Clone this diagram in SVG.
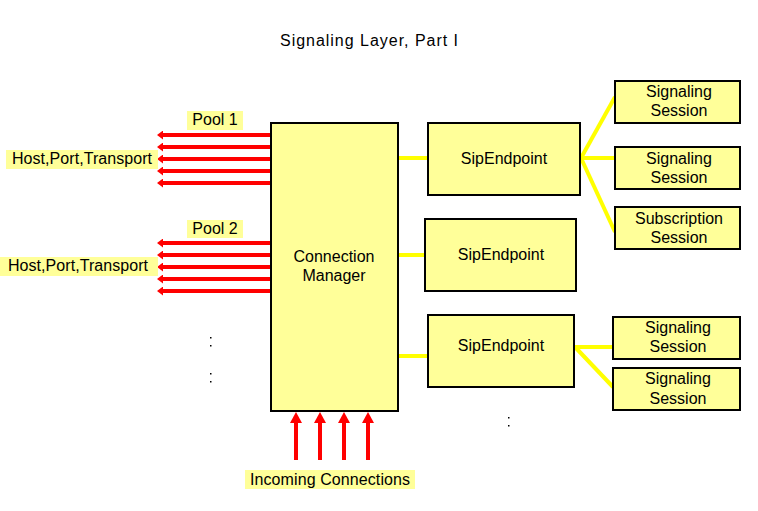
<svg xmlns="http://www.w3.org/2000/svg" width="758" height="511" viewBox="0 0 758 511">
<defs>
<style>
.box{fill:#FFFF99;stroke:#000;stroke-width:2}
.lbl{fill:#FFFF99;stroke:none}
text{font-family:"Liberation Sans",Arial,sans-serif;font-size:16px;fill:#000}
.c{text-anchor:middle}
.red{stroke:#FF0000;stroke-width:4;fill:none}
.yel{stroke:#FFFF00;stroke-width:4;fill:none}
</style>
<marker id="la" markerUnits="userSpaceOnUse" viewBox="0 -4.5 6 9" refX="0" refY="0" markerWidth="6" markerHeight="9" orient="auto"><path d="M0,-4.5 L6,0 L0,4.5 z" fill="#FF0000"/></marker>
<marker id="ua" markerUnits="userSpaceOnUse" viewBox="0 -6 11 12" refX="0" refY="0" markerWidth="11" markerHeight="12" orient="auto"><path d="M0,-6 L11,0 L0,6 z" fill="#FF0000"/></marker>
</defs>
<rect width="758" height="511" fill="#fff"/>
<text x="369" y="46" class="c" textLength="178">Signaling Layer, Part I</text>

<g id="connectors">
<g class="red" marker-end="url(#la)">
<line x1="271" y1="135" x2="163" y2="135"/>
<line x1="271" y1="147" x2="163" y2="147"/>
<line x1="271" y1="159" x2="163" y2="159"/>
<line x1="271" y1="171" x2="163" y2="171"/>
<line x1="271" y1="183" x2="163" y2="183"/>
<line x1="271" y1="243" x2="163" y2="243"/>
<line x1="271" y1="255" x2="163" y2="255"/>
<line x1="271" y1="267" x2="163" y2="267"/>
<line x1="271" y1="279" x2="163" y2="279"/>
<line x1="271" y1="291" x2="163" y2="291"/>
</g>
<g class="red" marker-end="url(#ua)" stroke-width="3.5">
<line x1="296" y1="460" x2="296" y2="423"/>
<line x1="320" y1="460" x2="320" y2="423"/>
<line x1="344" y1="460" x2="344" y2="423"/>
<line x1="368" y1="460" x2="368" y2="423"/>
</g>
<g class="yel">
<line x1="398" y1="158" x2="428" y2="158"/>
<line x1="398" y1="255" x2="425" y2="255"/>
<line x1="398" y1="356" x2="428" y2="356"/>
<line x1="581" y1="158" x2="615" y2="97"/>
<line x1="581" y1="158" x2="615" y2="158"/>
<line x1="581" y1="158" x2="615" y2="232"/>
<line x1="575" y1="347" x2="613" y2="347"/>
<line x1="575" y1="347" x2="613" y2="387"/>
</g>
</g>

<g id="pool1">
<rect class="lbl" x="187" y="111" width="56" height="19"/>
<text x="215" y="125" class="c">Pool 1</text>
</g>
<g id="pool2">
<rect class="lbl" x="187" y="220" width="56" height="18"/>
<text x="215" y="234" class="c">Pool 2</text>
</g>
<g id="hpt1">
<rect class="lbl" x="6" y="150" width="152" height="19"/>
<text x="12" y="164" textLength="140">Host,Port,Transport</text>
</g>
<g id="hpt2">
<rect class="lbl" x="0" y="257" width="158" height="19"/>
<text x="8" y="271" textLength="140">Host,Port,Transport</text>
</g>
<g id="incoming">
<rect class="lbl" x="245" y="470" width="170" height="19"/>
<text x="330" y="485" class="c" textLength="160">Incoming Connections</text>
</g>

<g id="cm">
<rect class="box" x="271" y="123" width="127" height="288"/>
<text x="334" y="262" class="c">Connection</text>
<text x="334" y="281" class="c">Manager</text>
</g>
<g id="se1">
<rect class="box" x="428" y="123" width="152" height="72"/>
<text x="504" y="164" class="c">SipEndpoint</text>
</g>
<g id="se2">
<rect class="box" x="425" y="219" width="151" height="72"/>
<text x="501" y="260" class="c">SipEndpoint</text>
</g>
<g id="se3">
<rect class="box" x="428" y="315" width="146" height="72"/>
<text x="501" y="351" class="c">SipEndpoint</text>
</g>
<g id="ss1">
<rect class="box" x="615" y="81" width="125" height="42"/>
<text x="679" y="97" class="c">Signaling</text>
<text x="679" y="116" class="c">Session</text>
</g>
<g id="ss2">
<rect class="box" x="615" y="147" width="125" height="42"/>
<text x="679" y="164" class="c">Signaling</text>
<text x="679" y="183" class="c">Session</text>
</g>
<g id="sub1">
<rect class="box" x="615" y="207" width="125" height="42"/>
<text x="679" y="224" class="c">Subscription</text>
<text x="679" y="243" class="c">Session</text>
</g>
<g id="ss3">
<rect class="box" x="613" y="317" width="127" height="42"/>
<text x="678" y="333" class="c">Signaling</text>
<text x="678" y="352" class="c">Session</text>
</g>
<g id="ss4">
<rect class="box" x="613" y="368" width="127" height="42"/>
<text x="678" y="384" class="c">Signaling</text>
<text x="678" y="404" class="c">Session</text>
</g>

<g id="dots" fill="#000">
<rect x="210" y="337" width="1.5" height="1.5"/>
<rect x="210" y="345" width="1.5" height="1.5"/>
<rect x="210" y="373" width="1.5" height="1.5"/>
<rect x="210" y="381" width="1.5" height="1.5"/>
<rect x="508" y="417" width="1.5" height="1.5"/>
<rect x="508" y="425" width="1.5" height="1.5"/>
</g>
</svg>
